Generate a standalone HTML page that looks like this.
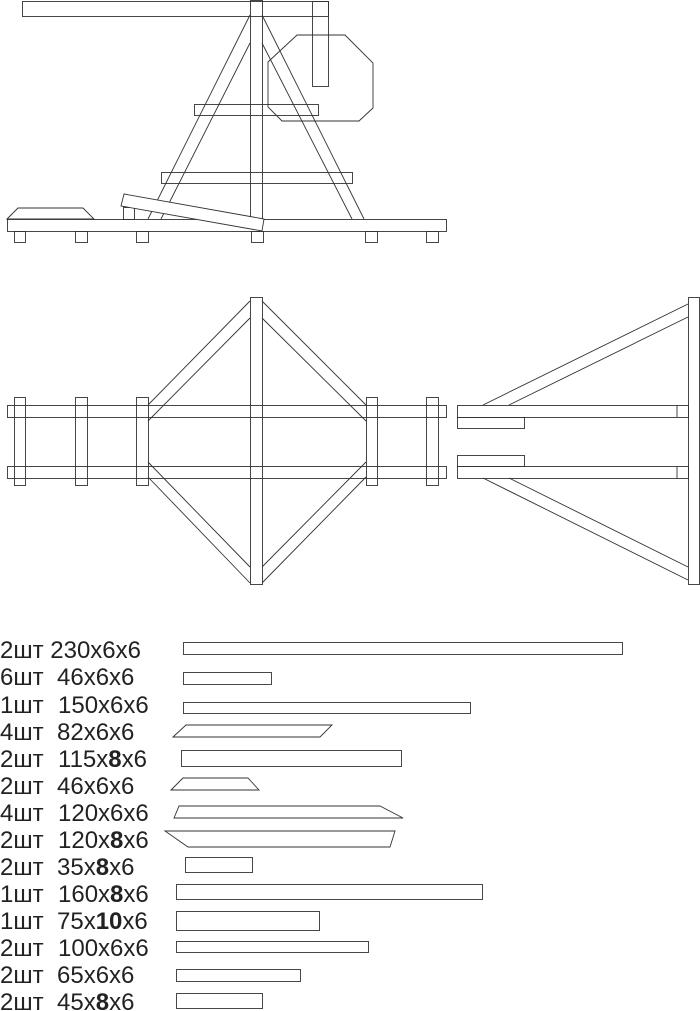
<!DOCTYPE html>
<html><head><meta charset="utf-8"><style>
html,body{margin:0;padding:0;background:#fff;}
svg{display:block;}
text{font-family:"Liberation Sans",sans-serif;font-size:24px;fill:#222;}
</style></head><body>
<svg width="700" height="1011" viewBox="0 0 700 1011" xmlns="http://www.w3.org/2000/svg">
<g fill="none" stroke="#333" stroke-width="0.9">
<!-- side view -->
<rect x="22.5" y="1.5" width="306" height="15"/>
<rect x="250.5" y="0.5" width="12" height="219"/>
<rect x="312.5" y="1.5" width="16" height="85"/>
<polygon points="297,35 345,35 373,63 373,108 359,121 282,121 268,107 268,62" fill="none"/>
<rect x="194.5" y="104.5" width="124" height="11"/>
<rect x="161.5" y="172.5" width="191" height="11"/>
<line x1="250" y1="15" x2="148" y2="219"/>
<line x1="250" y1="43" x2="161" y2="219"/>
<line x1="262" y1="15" x2="364" y2="219"/>
<line x1="262" y1="43" x2="352" y2="219"/>
<rect x="7.5" y="219.5" width="439" height="12"/>
<rect x="14.5" y="231.5" width="11" height="11"/>
<rect x="75.5" y="231.5" width="12" height="11"/>
<rect x="136.5" y="231.5" width="12" height="11"/>
<rect x="251.5" y="231.5" width="12" height="11"/>
<rect x="365.5" y="231.5" width="12" height="11"/>
<rect x="426.5" y="231.5" width="12" height="11"/>
<polygon points="7,219 18,208 83,208 94,219"/>
<rect x="123.5" y="207.5" width="11" height="12"/>
<polygon points="124,194 264,219 262,231 121,206" fill="#fff"/>
<!-- top view -->
<rect x="7.5" y="405.5" width="439" height="12"/>
<rect x="7.5" y="466.5" width="439" height="12"/>
<rect x="14.5" y="397.5" width="11" height="88"/>
<rect x="75.5" y="397.5" width="12" height="88"/>
<rect x="136.5" y="397.5" width="12" height="88"/>
<rect x="366.5" y="397.5" width="11" height="88"/>
<rect x="426.5" y="397.5" width="12" height="88"/>
<rect x="250.5" y="297.5" width="12" height="287"/>
<line x1="148" y1="405" x2="250" y2="301"/>
<line x1="148" y1="421" x2="250" y2="318"/>
<line x1="262" y1="301" x2="366" y2="405"/>
<line x1="262" y1="318" x2="366" y2="421"/>
<line x1="148" y1="462" x2="250" y2="567"/>
<line x1="148" y1="477" x2="250" y2="583"/>
<line x1="262" y1="583" x2="366" y2="477"/>
<line x1="262" y1="567" x2="366" y2="462"/>
<rect x="457.5" y="405.5" width="231" height="12"/>
<rect x="457.5" y="466.5" width="231" height="12"/>
<line x1="677" y1="405" x2="677" y2="417"/>
<line x1="677" y1="466" x2="677" y2="478"/>
<rect x="457.5" y="417.5" width="67" height="11"/>
<rect x="457.5" y="455.5" width="67" height="11"/>
<rect x="688.5" y="297.5" width="11" height="287"/>
<line x1="483" y1="405" x2="688" y2="304"/>
<line x1="509" y1="405" x2="688" y2="317"/>
<line x1="483" y1="478" x2="688" y2="580"/>
<line x1="509" y1="478" x2="688" y2="567"/>
<!-- parts -->
<rect x="183.5" y="642.5" width="439" height="12"/>
<rect x="183.5" y="672.5" width="88" height="12"/>
<rect x="183.5" y="702.5" width="287" height="11"/>
<polygon points="173,737 186,725 332,725 320,737"/>
<rect x="181.5" y="750.5" width="220" height="16"/>
<polygon points="171,790 183,778 248,778 259,790"/>
<polygon points="174,818 179,806 380,806 403,818"/>
<polygon points="165,831 395,831 390,847 188,847"/>
<rect x="185.5" y="857.5" width="67" height="15"/>
<rect x="176.5" y="884.5" width="306" height="15"/>
<rect x="176.5" y="911.5" width="143" height="19"/>
<rect x="176.5" y="941.5" width="192" height="11"/>
<rect x="176.5" y="969.5" width="124" height="12"/>
<rect x="176.5" y="993.5" width="86" height="15"/>
</g>
<g>
<text x="0" y="658">2шт 230x6x6</text>
<text x="0" y="685">6шт <tspan x="57">46x6x6</tspan></text>
<text x="0" y="713">1шт <tspan x="58">150x6x6</tspan></text>
<text x="0" y="740">4шт <tspan x="57">82x6x6</tspan></text>
<text x="0" y="767">2шт <tspan x="58">115x<tspan font-weight="bold">8</tspan>x6</tspan></text>
<text x="0" y="794">2шт <tspan x="57">46x6x6</tspan></text>
<text x="0" y="821">4шт <tspan x="58">120x6x6</tspan></text>
<text x="0" y="848">2шт <tspan x="58">120x<tspan font-weight="bold">8</tspan>x6</tspan></text>
<text x="0" y="875">2шт <tspan x="57">35x<tspan font-weight="bold">8</tspan>x6</tspan></text>
<text x="0" y="902">1шт <tspan x="58">160x<tspan font-weight="bold">8</tspan>x6</tspan></text>
<text x="0" y="929">1шт <tspan x="57">75x<tspan font-weight="bold">10</tspan>x6</tspan></text>
<text x="0" y="956">2шт <tspan x="58">100x6x6</tspan></text>
<text x="0" y="983">2шт <tspan x="57">65x6x6</tspan></text>
<text x="0" y="1010">2шт <tspan x="57">45x<tspan font-weight="bold">8</tspan>x6</tspan></text>
</g>
</svg>
</body></html>
